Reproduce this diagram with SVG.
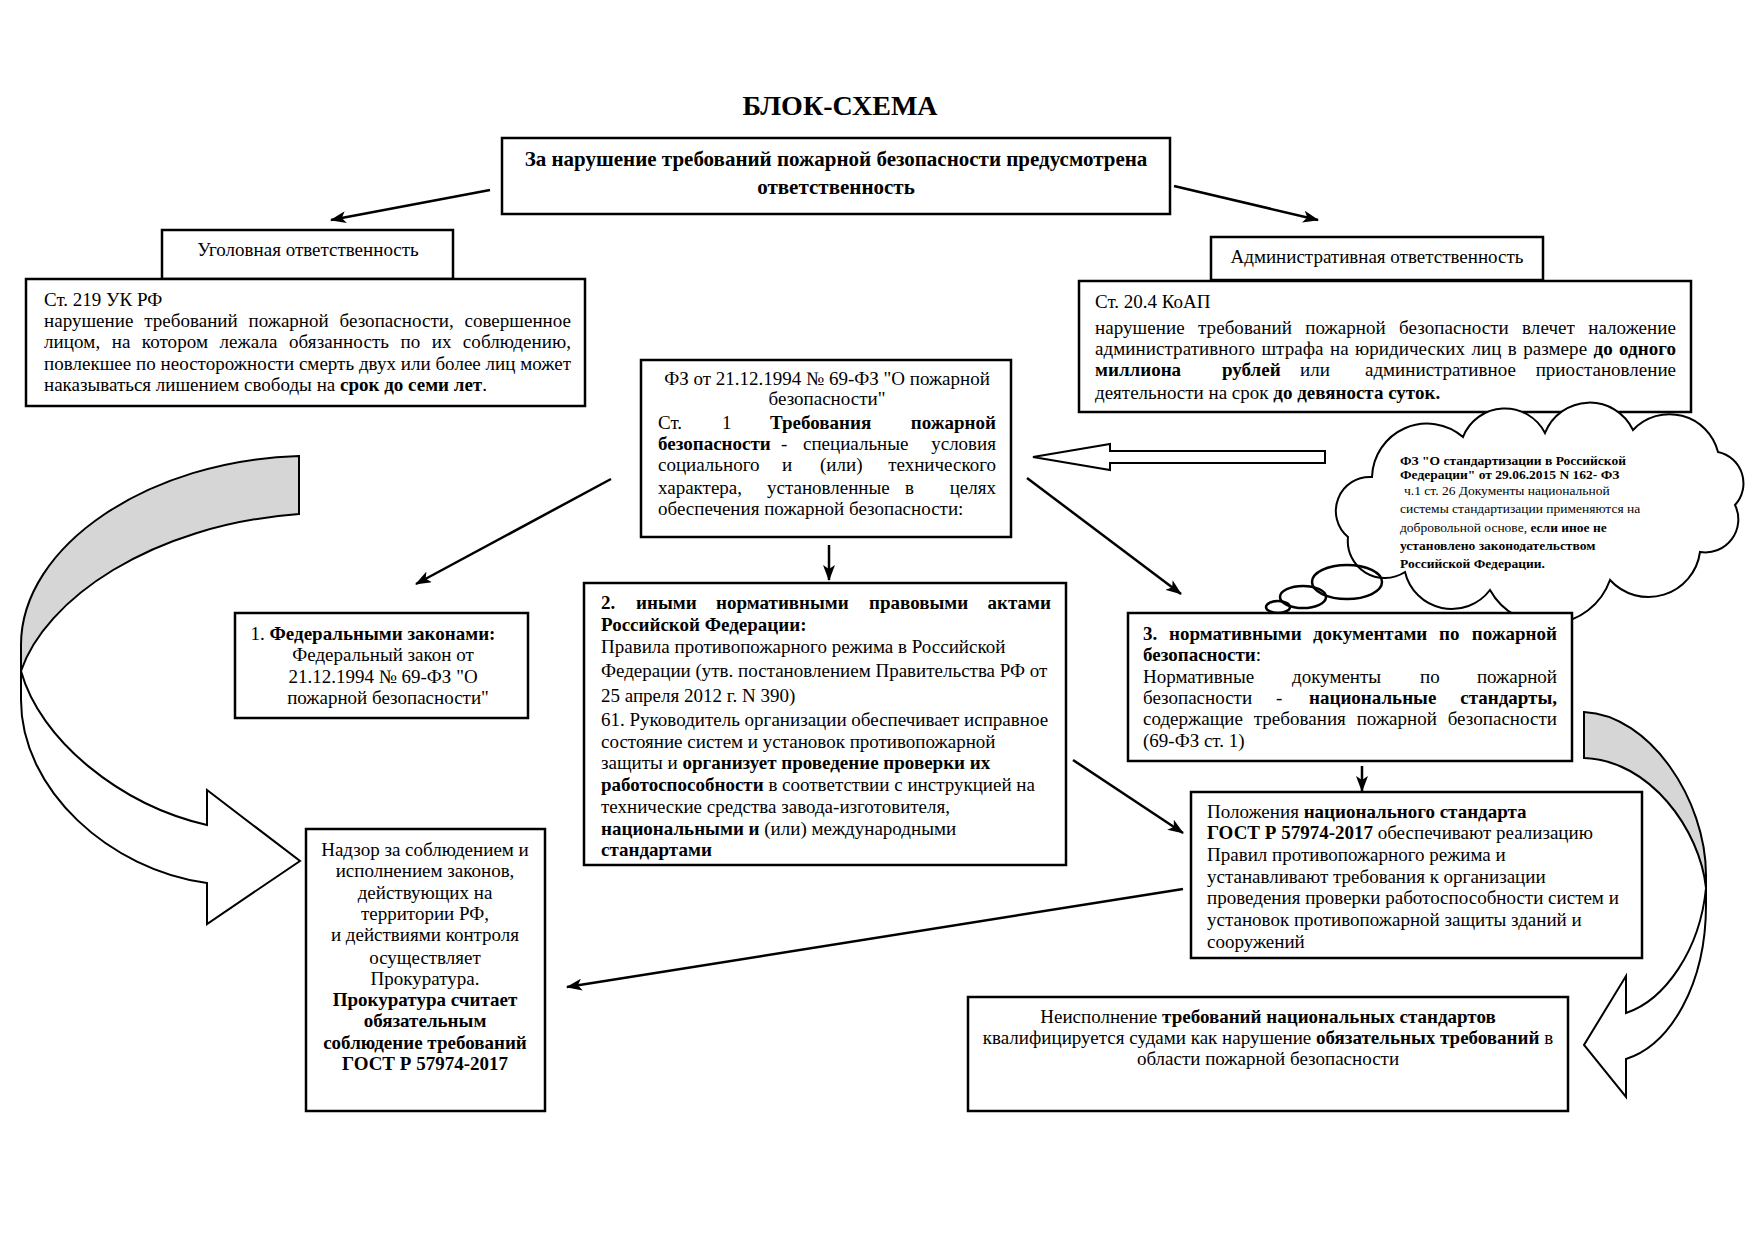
<svg xmlns="http://www.w3.org/2000/svg" width="1754" height="1240" viewBox="0 0 1754 1240">
<defs>
<style>
.box{fill:#fff;stroke:#000;stroke-width:2.5}
.t{font-family:"Liberation Serif","Times New Roman",serif;font-size:19px;fill:#000}
.b{font-weight:bold}
.c{text-anchor:middle}
.e{text-anchor:end}
.cl{font-size:13.5px}
.big{font-size:21px}
.ttl{font-size:28px}
.conn line{stroke:#000;stroke-width:2.5;marker-end:url(#ah)}
.shape{stroke:#000;stroke-width:2;stroke-linejoin:miter}
.grey{fill:#d6d6d6}
.white{fill:#fff}
</style>
<marker id="ah" viewBox="0 0 16 12" refX="15" refY="6" markerWidth="16" markerHeight="12" orient="auto" markerUnits="userSpaceOnUse"><path d="M0,0 L16,6 L0,12 L4,6 z" fill="#000"/></marker>
</defs>
<rect width="1754" height="1240" fill="#fff"/>

<g id="title"><text class="t b c ttl" x="840" y="115">БЛОК-СХЕМА</text></g>

<g id="connectors" class="conn">
<line x1="490" y1="190" x2="331" y2="220"/>
<line x1="1174" y1="186" x2="1318" y2="220"/>
<line x1="611" y1="479" x2="416" y2="584"/>
<line x1="829" y1="545" x2="829" y2="580"/>
<line x1="1027" y1="478" x2="1181" y2="594"/>
<line x1="1362" y1="766" x2="1362" y2="791"/>
<line x1="1073" y1="760" x2="1183" y2="833"/>
<line x1="1183" y1="889" x2="567" y2="987"/>
<polygon class="shape white" points="1033,457 1110,444 1110,451 1325,451 1325,463 1110,463 1110,470"/>
<path class="shape grey" d="M299,456 C150,460 21,545 21,645 L21,671 C45,600 150,525 299,514 Z"/>
<path class="shape white" d="M21,671 C40,740 120,805 207,825 L207,790 L300,861 L207,924 L207,883 C110,870 21,790 21,700 Z"/>
<path class="shape grey" d="M1584,712 C1650,715 1706,800 1706,875 L1706,888 C1700,830 1650,760 1584,758 Z"/>
<path class="shape white" d="M1706,888 C1700,950 1665,1000 1626,1013 L1626,976 L1584,1045 L1626,1097 L1626,1059 C1670,1045 1706,985 1706,905 Z"/>
</g>

<g id="n-top">
<rect class="box" x="502" y="138" width="668" height="76"/>
<text class="t b c big" x="836" y="166">За нарушение требований пожарной безопасности предусмотрена</text>
<text class="t b c big" x="836" y="194">ответственность</text>
</g>

<g id="n-criminal-label">
<rect class="box" x="162" y="230" width="291" height="49"/>
<text class="t c" x="308" y="256">Уголовная ответственность</text>
</g>

<g id="n-criminal">
<rect class="box" x="26" y="279" width="559" height="127"/>
<text class="t" x="44" y="306">Ст. 219 УК РФ</text>
<text class="t" x="44" y="327" textLength="527" lengthAdjust="spacing" word-spacing="6">нарушение требований пожарной безопасности, совершенное</text>
<text class="t" x="44" y="348" textLength="527" lengthAdjust="spacing" word-spacing="6.5">лицом, на котором лежала обязанность по их соблюдению,</text>
<text class="t" x="44" y="370" textLength="527" lengthAdjust="spacing">повлекшее по неосторожности смерть двух или более лиц может</text>
<text class="t" x="44" y="391">наказываться лишением свободы на <tspan class="b">срок до семи лет</tspan>.</text>
</g>

<g id="n-admin-label">
<rect class="box" x="1211" y="237" width="332" height="43"/>
<text class="t c" x="1377" y="263">Административная ответственность</text>
</g>

<g id="n-admin">
<rect class="box" x="1079" y="281" width="612" height="131"/>
<text class="t" x="1095" y="308">Ст. 20.4 КоАП</text>
<text class="t" x="1095" y="334" textLength="581" lengthAdjust="spacing" word-spacing="8.5">нарушение требований пожарной безопасности влечет наложение</text>
<text class="t" x="1095" y="355" textLength="581" lengthAdjust="spacing" word-spacing="1.5">административного штрафа на юридических лиц в размере <tspan class="b">до одного</tspan></text>
<text class="t" y="376"><tspan class="b" x="1095">миллиона</tspan><tspan class="b" x="1222">рублей</tspan><tspan x="1300">или</tspan><tspan x="1365">административное</tspan></text>
<text class="t e" x="1676" y="376">приостановление</text>
<text class="t" x="1095" y="399">деятельности на срок <tspan class="b">до девяноста суток.</tspan></text>
</g>

<g id="n-fz">
<rect class="box" x="641" y="360" width="370" height="177"/>
<text class="t c" x="827" y="385">ФЗ от 21.12.1994 № 69-ФЗ "О пожарной</text>
<text class="t c" x="827" y="405">безопасности"</text>
<text class="t" y="429"><tspan x="658">Ст.</tspan><tspan x="722">1</tspan><tspan class="b" x="770">Требования</tspan></text>
<text class="t b e" x="996" y="429">пожарной</text>
<text class="t" y="450"><tspan class="b" x="658">безопасности</tspan><tspan x="781">-</tspan><tspan x="803">специальные</tspan></text>
<text class="t e" x="996" y="450">условия</text>
<text class="t" y="471"><tspan x="658">социального</tspan><tspan x="782">и</tspan><tspan x="820">(или)</tspan></text>
<text class="t e" x="996" y="471">технического</text>
<text class="t" y="494"><tspan x="658">характера,</tspan><tspan x="767">установленные</tspan><tspan x="905">в</tspan></text>
<text class="t e" x="996" y="494">целях</text>
<text class="t" x="658" y="515">обеспечения пожарной безопасности:</text>
</g>

<g id="n-cloud">
<path class="shape white" stroke-width="2.5" d="M1372,477 A55,55 0 0 1 1463,437 A45,45 0 0 1 1545,433 A48,48 0 0 1 1633,430 A50,50 0 0 1 1718,452 A32,32 0 0 1 1735,505 A33,33 0 0 1 1700,552 A52,52 0 0 1 1610,580 A66,66 0 0 1 1490,590 A48,48 0 0 1 1405,572 A37,37 0 0 1 1348,537 A34,34 0 0 1 1372,477 Z"/>
<ellipse cx="1347" cy="582" rx="35" ry="17" fill="none" stroke="#000" stroke-width="2.5"/>
<ellipse cx="1303" cy="597" rx="23" ry="11" fill="none" stroke="#000" stroke-width="2.5"/>
<ellipse cx="1278" cy="607" rx="12" ry="6" fill="none" stroke="#000" stroke-width="2.5"/>
<text class="t cl b" x="1400" y="465">ФЗ "О стандартизации в Российской</text>
<text class="t cl b" x="1400" y="479">Федерации" от 29.06.2015 N 162- ФЗ</text>
<text class="t cl" x="1404" y="495">ч.1 ст. 26 Документы национальной</text>
<text class="t cl" x="1400" y="513">системы стандартизации применяются на</text>
<text class="t cl" x="1400" y="532">добровольной основе, <tspan class="b">если иное не</tspan></text>
<text class="t cl b" x="1400" y="550">установлено законодательством</text>
<text class="t cl b" x="1400" y="568">Российской Федерации.</text>
</g>

<g id="n-fed">
<rect class="box" x="235" y="613" width="293" height="105"/>
<text class="t c" x="373" y="640">1. <tspan class="b">Федеральными законами:</tspan></text>
<text class="t c" x="383" y="661">Федеральный закон от</text>
<text class="t c" x="383" y="683">21.12.1994 № 69-ФЗ "О</text>
<text class="t c" x="388" y="704">пожарной безопасности"</text>
</g>

<g id="n-acts">
<rect class="box" x="584" y="583" width="482" height="282"/>
<text class="t b" y="609"><tspan x="601">2.</tspan><tspan x="636">иными</tspan><tspan x="716">нормативными</tspan><tspan x="869">правовыми</tspan></text>
<text class="t b e" x="1051" y="609">актами</text>
<text class="t b" x="601" y="631">Российской Федерации:</text>
<text class="t" x="601" y="653">Правила противопожарного режима в Российской</text>
<text class="t" x="601" y="677">Федерации (утв. постановлением Правительства РФ от</text>
<text class="t" x="601" y="702">25 апреля 2012 г. N 390)</text>
<text class="t" x="601" y="726">61. Руководитель организации обеспечивает исправное</text>
<text class="t" x="601" y="748">состояние систем и установок противопожарной</text>
<text class="t" x="601" y="769">защиты и <tspan class="b">организует проведение проверки их</tspan></text>
<text class="t" x="601" y="791"><tspan class="b">работоспособности</tspan> в соответствии с инструкцией на</text>
<text class="t" x="601" y="813">технические средства завода-изготовителя,</text>
<text class="t" x="601" y="835"><tspan class="b">национальными и</tspan> (или) международными</text>
<text class="t b" x="601" y="856">стандартами</text>
</g>

<g id="n-docs">
<rect class="box" x="1128" y="613" width="444" height="148"/>
<text class="t b" y="640"><tspan x="1143">3.</tspan><tspan x="1169">нормативными</tspan><tspan x="1313">документами</tspan><tspan x="1439">по</tspan></text>
<text class="t b e" x="1557" y="640">пожарной</text>
<text class="t" x="1143" y="661"><tspan class="b">безопасности</tspan>:</text>
<text class="t" y="683"><tspan x="1143">Нормативные</tspan><tspan x="1292">документы</tspan><tspan x="1420">по</tspan></text>
<text class="t e" x="1557" y="683">пожарной</text>
<text class="t" y="704"><tspan x="1143">безопасности</tspan><tspan x="1276">-</tspan><tspan class="b" x="1309">национальные</tspan></text>
<text class="t b e" x="1557" y="704">стандарты,</text>
<text class="t" x="1143" y="725" textLength="414" lengthAdjust="spacing" word-spacing="6">содержащие требования пожарной безопасности</text>
<text class="t" x="1143" y="747">(69-ФЗ ст. 1)</text>
</g>

<g id="n-gost">
<rect class="box" x="1191" y="792" width="451" height="166"/>
<text class="t" x="1207" y="818">Положения <tspan class="b">национального стандарта</tspan></text>
<text class="t" x="1207" y="839"><tspan class="b">ГОСТ Р 57974-2017</tspan> обеспечивают реализацию</text>
<text class="t" x="1207" y="861">Правил противопожарного режима и</text>
<text class="t" x="1207" y="883">устанавливают требования к организации</text>
<text class="t" x="1207" y="904">проведения проверки работоспособности систем и</text>
<text class="t" x="1207" y="926">установок противопожарной защиты зданий и</text>
<text class="t" x="1207" y="948">сооружений</text>
</g>

<g id="n-supervision">
<rect class="box" x="306" y="829" width="239" height="282"/>
<text class="t c" x="425" y="856">Надзор за соблюдением и</text>
<text class="t c" x="425" y="877">исполнением законов,</text>
<text class="t c" x="425" y="899">действующих на</text>
<text class="t c" x="425" y="920">территории РФ,</text>
<text class="t c" x="425" y="941">и действиями контроля</text>
<text class="t c" x="425" y="964">осуществляет</text>
<text class="t c" x="425" y="985">Прокуратура.</text>
<text class="t b c" x="425" y="1006">Прокуратура считает</text>
<text class="t b c" x="425" y="1027">обязательным</text>
<text class="t b c" x="425" y="1049">соблюдение требований</text>
<text class="t b c" x="425" y="1070">ГОСТ Р 57974-2017</text>
</g>

<g id="n-courts">
<rect class="box" x="968" y="997" width="600" height="114"/>
<text class="t c" x="1268" y="1023">Неисполнение <tspan class="b">требований национальных стандартов</tspan></text>
<text class="t c" x="1268" y="1044">квалифицируется судами как нарушение <tspan class="b">обязательных требований</tspan> в</text>
<text class="t c" x="1268" y="1065">области пожарной безопасности</text>
</g>
</svg>
